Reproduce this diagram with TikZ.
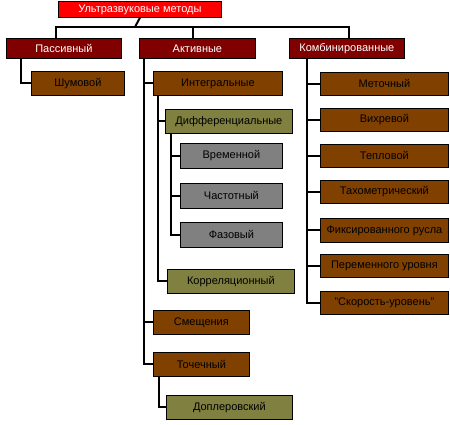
\documentclass[tikz,border=0pt]{standalone}
\usepackage{fontspec}
\setmainfont{Liberation Sans}
\begin{document}
\begin{tikzpicture}[x=1pt,y=-1pt,
  box/.style={draw=black,line width=0.8pt,inner sep=0pt,anchor=north west,font=\fontsize{11}{13}\selectfont},
  redbox/.style={box,fill=cRed,text=white},
  darkbox/.style={box,fill=cDark,text=white},
  brownbox/.style={box,fill=cBrown,text=black},
  olivebox/.style={box,fill=cOlive,text=black},
  graybox/.style={box,fill=cGray,text=black},
  conn/.style={draw=black,line width=2pt}]
\definecolor{cRed}{RGB}{255,0,0}
\definecolor{cDark}{RGB}{128,0,0}
\definecolor{cBrown}{RGB}{128,64,0}
\definecolor{cOlive}{RGB}{128,128,64}
\definecolor{cGray}{RGB}{128,128,128}
\useasboundingbox[fill=white] (0,0) rectangle (450,425);
% boxes: (x,y) top-left, width, height
\node[redbox,minimum width=163pt,minimum height=16pt] (top) at (58,1) {Ультразвуковые методы};
\node[darkbox,minimum width=115pt,minimum height=20pt] (pass) at (6,38) {Пассивный};
\node[darkbox,minimum width=116pt,minimum height=20pt] (act) at (139,38) {Активные};
\node[darkbox,minimum width=115pt,minimum height=20pt] (comb) at (289,38) {Комбинированные};
\node[brownbox,minimum width=93pt,minimum height=24pt] (shum) at (31,71) {Шумовой};
\node[brownbox,minimum width=129pt,minimum height=24pt] (integ) at (153,71) {Интегральные};
\node[olivebox,minimum width=127pt,minimum height=24pt] (diff) at (165,109) {Дифференциальные};
\node[graybox,minimum width=102pt,minimum height=25pt] (vrem) at (180,143) {Временной};
\node[graybox,minimum width=102pt,minimum height=25pt] (chast) at (180,183) {Частотный};
\node[graybox,minimum width=102pt,minimum height=25pt] (faz) at (180,222) {Фазовый};
\node[olivebox,minimum width=127pt,minimum height=24pt] (korr) at (167,269) {Корреляционный};
\node[brownbox,minimum width=96pt,minimum height=24pt] (smesh) at (153,310) {Смещения};
\node[brownbox,minimum width=96pt,minimum height=24pt] (toch) at (153,352) {Точечный};
\node[olivebox,minimum width=126pt,minimum height=24pt] (dopl) at (166,395) {Доплеровский};
\node[brownbox,minimum width=128pt,minimum height=23pt] (met) at (320,72) {Меточный};
\node[brownbox,minimum width=128pt,minimum height=23pt] (vikh) at (320,108) {Вихревой};
\node[brownbox,minimum width=128pt,minimum height=23pt] (tepl) at (320,144) {Тепловой};
\node[brownbox,minimum width=128pt,minimum height=23pt] (takh) at (320,180) {Тахометрический};
\node[brownbox,minimum width=128pt,minimum height=24pt] (fiks) at (320,218) {Фиксированного русла};
\node[brownbox,minimum width=128pt,minimum height=23pt] (perem) at (320,254) {Переменного уровня};
\node[brownbox,minimum width=128pt,minimum height=23pt] (skor) at (320,291) {''Скорость-уровень''};
% connectors
\coordinate (bus) at (135,27);
\draw[conn] (top.south) -- (bus);
\draw[conn] ([xshift=-7.5pt]pass.north) |- (bus);
\draw[conn] ([xshift=-4pt]act.north) |- (bus);
\draw[conn] ([xshift=2.5pt]comb.north) |- (bus);
\draw[conn] ([xshift=15pt]pass.south west) |- (shum.west);
\foreach \c in {integ,smesh,toch}
  \draw[conn] ([xshift=5pt]act.south west) |- (\c.west);
\foreach \c in {diff,korr}
  \draw[conn] ([xshift=4.5pt]integ.south west) |- (\c.west);
\foreach \c in {vrem,chast,faz}
  \draw[conn] ([xshift=6pt]diff.south west) |- (\c.west);
\draw[conn] ([xshift=6pt]toch.south west) |- (dopl.west);
\foreach \c in {met,vikh,tepl,takh,fiks,perem,skor}
  \draw[conn] ([xshift=18pt]comb.south west) |- (\c.west);
\end{tikzpicture}
\end{document}
